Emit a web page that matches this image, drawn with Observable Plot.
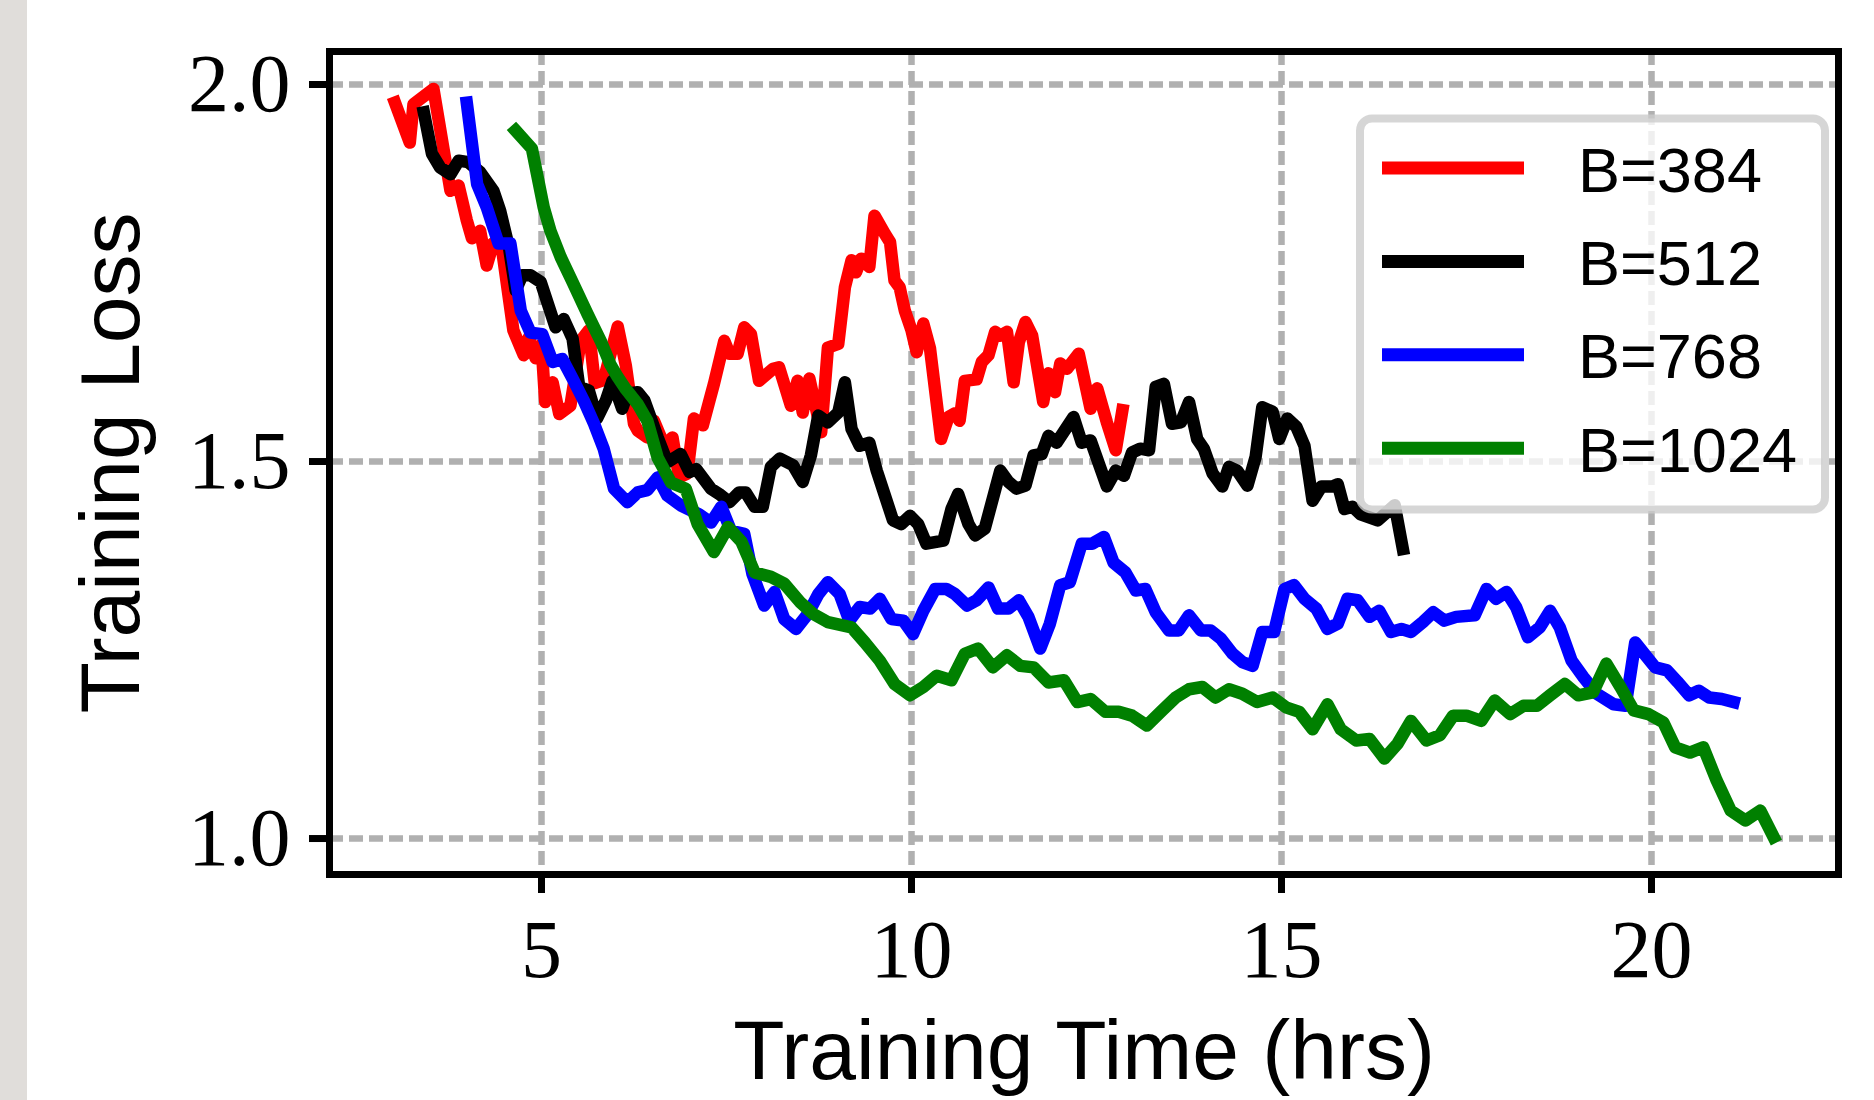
<!DOCTYPE html>
<html><head><meta charset="utf-8">
<script src="https://cdn.jsdelivr.net/npm/d3@7"></script>
<script src="https://cdn.jsdelivr.net/npm/@observablehq/plot@0.6"></script>
<style>
html,body{margin:0;padding:0;background:#fff;}
#wrap{position:relative;width:1874px;height:1100px;overflow:hidden;background:#fff;}
#strip{position:absolute;left:0;top:0;width:27px;height:1100px;background:#e0ddda;}
#wrap svg{position:absolute;left:0;top:0;}
</style></head><body><div id="wrap"><div id="strip"></div></div>
<script>
const seriesNames = ["B=384", "B=512", "B=768", "B=1024"];
const seriesColors = ["#ff0000", "#000000", "#0000ff", "#008000"];
const xTicks = [5, 10, 15, 20];
const yTicks = [1.0, 1.5, 2.0];
const xLabel = "Training Time (hrs)";
const yLabel = "Training Loss";

const timeB384 = [3.02,3.22,3.27,3.54,3.77,3.88,3.99,4.06,4.17,4.26,4.35,4.46,4.62,4.76,4.83,4.92,5.00,5.05,5.15,5.24,5.39,5.53,5.64,5.72,5.84,6.03,6.14,6.25,6.30,6.43,6.52,6.66,6.77,6.86,6.97,7.06,7.18,7.27,7.33,7.47,7.54,7.65,7.74,7.83,7.94,8.13,8.21,8.37,8.46,8.53,8.62,8.78,8.87,9.01,9.10,9.19,9.25,9.32,9.43,9.50,9.64,9.71,9.77,9.84,9.91,10.00,10.07,10.16,10.25,10.40,10.50,10.59,10.65,10.72,10.88,10.95,11.04,11.13,11.20,11.29,11.38,11.45,11.54,11.63,11.78,11.85,11.94,12.01,12.10,12.26,12.42,12.51,12.64,12.76,12.85];
const lossB384 = [1.976,1.923,1.974,1.994,1.859,1.866,1.820,1.796,1.806,1.760,1.790,1.786,1.674,1.641,1.665,1.637,1.655,1.579,1.605,1.563,1.574,1.660,1.674,1.604,1.608,1.679,1.627,1.550,1.541,1.532,1.554,1.521,1.532,1.479,1.484,1.557,1.548,1.581,1.603,1.660,1.643,1.643,1.678,1.669,1.607,1.623,1.625,1.574,1.607,1.565,1.610,1.539,1.651,1.656,1.731,1.767,1.751,1.769,1.758,1.826,1.802,1.791,1.740,1.731,1.700,1.674,1.645,1.683,1.650,1.530,1.559,1.564,1.554,1.607,1.609,1.632,1.641,1.672,1.667,1.672,1.605,1.658,1.685,1.667,1.579,1.617,1.592,1.630,1.623,1.643,1.570,1.597,1.552,1.515,1.568];

const timeB512 = [3.41,3.52,3.63,3.77,3.88,4.01,4.17,4.35,4.44,4.56,4.65,4.74,4.85,4.99,5.10,5.19,5.30,5.42,5.51,5.64,5.75,5.87,5.96,6.09,6.16,6.30,6.39,6.57,6.70,6.88,7.00,7.09,7.29,7.40,7.54,7.67,7.76,7.88,7.99,8.10,8.22,8.40,8.53,8.64,8.74,8.87,9.01,9.10,9.19,9.30,9.43,9.53,9.64,9.75,9.86,9.98,10.09,10.20,10.43,10.54,10.63,10.77,10.86,10.99,11.20,11.31,11.42,11.54,11.65,11.76,11.85,11.96,12.19,12.30,12.42,12.64,12.76,12.87,12.98,13.09,13.21,13.30,13.41,13.52,13.64,13.75,13.86,13.95,14.07,14.20,14.29,14.40,14.54,14.65,14.74,14.88,14.97,15.08,15.20,15.31,15.42,15.54,15.69,15.76,15.85,15.96,16.07,16.30,16.53,16.64];
const lossB512 = [1.963,1.908,1.890,1.881,1.899,1.897,1.884,1.859,1.833,1.784,1.727,1.747,1.747,1.738,1.705,1.678,1.689,1.663,1.599,1.594,1.557,1.581,1.607,1.570,1.590,1.592,1.581,1.532,1.499,1.510,1.486,1.490,1.464,1.457,1.446,1.459,1.459,1.440,1.440,1.493,1.504,1.495,1.473,1.508,1.561,1.552,1.565,1.605,1.543,1.521,1.525,1.488,1.455,1.422,1.417,1.428,1.417,1.391,1.395,1.437,1.457,1.417,1.402,1.411,1.488,1.473,1.464,1.468,1.508,1.510,1.534,1.525,1.559,1.525,1.528,1.467,1.488,1.481,1.512,1.517,1.515,1.599,1.603,1.550,1.552,1.579,1.530,1.517,1.484,1.467,1.493,1.488,1.468,1.506,1.572,1.566,1.530,1.557,1.546,1.521,1.448,1.467,1.467,1.470,1.437,1.440,1.430,1.422,1.442,1.384];

const timeB768 = [3.99,4.13,4.26,4.42,4.58,4.72,4.85,5.01,5.15,5.28,5.42,5.57,5.71,5.84,5.98,6.16,6.30,6.43,6.57,6.70,6.88,7.13,7.29,7.43,7.56,7.74,7.85,8.01,8.15,8.28,8.44,8.60,8.74,8.87,9.03,9.16,9.30,9.44,9.57,9.73,9.89,10.02,10.16,10.32,10.47,10.59,10.75,10.88,11.04,11.17,11.31,11.45,11.58,11.74,11.87,12.01,12.14,12.30,12.44,12.60,12.73,12.89,13.03,13.16,13.30,13.48,13.61,13.75,13.91,14.04,14.18,14.34,14.47,14.61,14.74,14.90,15.04,15.17,15.31,15.47,15.62,15.76,15.89,16.03,16.19,16.32,16.48,16.62,16.75,16.91,17.05,17.20,17.36,17.61,17.77,17.90,18.04,18.17,18.33,18.49,18.63,18.76,18.92,19.08,19.26,19.49,19.65,19.78,20.05,20.21,20.35,20.51,20.64,20.78,20.95,21.11];
const lossB768 = [1.976,1.868,1.837,1.789,1.789,1.700,1.671,1.669,1.632,1.636,1.610,1.581,1.550,1.517,1.464,1.446,1.459,1.462,1.479,1.455,1.442,1.430,1.419,1.440,1.408,1.404,1.351,1.309,1.327,1.291,1.278,1.298,1.324,1.340,1.324,1.289,1.307,1.305,1.318,1.291,1.289,1.271,1.302,1.331,1.331,1.324,1.309,1.316,1.333,1.305,1.305,1.316,1.294,1.252,1.285,1.336,1.340,1.391,1.391,1.400,1.366,1.353,1.329,1.331,1.300,1.276,1.276,1.296,1.276,1.276,1.265,1.245,1.234,1.229,1.274,1.274,1.331,1.336,1.318,1.305,1.278,1.285,1.318,1.316,1.294,1.302,1.274,1.278,1.274,1.287,1.300,1.289,1.294,1.296,1.331,1.318,1.327,1.307,1.267,1.280,1.302,1.280,1.236,1.214,1.192,1.178,1.176,1.260,1.227,1.223,1.208,1.190,1.196,1.187,1.185,1.181];

const timeB1024 = [4.65,4.87,5.03,5.12,5.26,5.42,5.62,5.80,5.93,6.03,6.14,6.30,6.43,6.57,6.75,6.95,7.11,7.33,7.52,7.70,7.88,8.10,8.28,8.49,8.67,8.87,9.19,9.37,9.57,9.77,9.98,10.16,10.34,10.54,10.72,10.90,11.10,11.29,11.47,11.65,11.85,12.06,12.24,12.42,12.62,12.80,12.98,13.18,13.39,13.57,13.75,13.93,14.11,14.29,14.47,14.67,14.88,15.06,15.24,15.42,15.62,15.80,16.01,16.19,16.39,16.57,16.75,16.96,17.14,17.32,17.50,17.70,17.88,18.09,18.27,18.45,18.63,18.83,19.01,19.21,19.39,19.58,19.76,19.96,20.16,20.32,20.52,20.70,20.88,21.07,21.27,21.47,21.65];
const lossB1024 = [1.939,1.915,1.837,1.806,1.771,1.738,1.696,1.660,1.629,1.612,1.596,1.576,1.554,1.505,1.472,1.464,1.417,1.380,1.413,1.394,1.353,1.347,1.338,1.314,1.298,1.287,1.280,1.260,1.236,1.205,1.190,1.201,1.216,1.210,1.245,1.252,1.227,1.243,1.229,1.227,1.207,1.210,1.181,1.185,1.168,1.168,1.163,1.150,1.170,1.187,1.198,1.201,1.187,1.198,1.192,1.181,1.187,1.174,1.168,1.145,1.178,1.145,1.130,1.132,1.106,1.126,1.156,1.130,1.137,1.163,1.163,1.156,1.183,1.165,1.176,1.176,1.190,1.205,1.190,1.194,1.232,1.201,1.170,1.165,1.154,1.121,1.114,1.121,1.077,1.037,1.024,1.037,1.002];

const seriesTimes = [timeB384, timeB512, timeB768, timeB1024];
const seriesLosses = [lossB384, lossB512, lossB768, lossB1024];

const rows = [];
seriesNames.forEach((name, s) => {
  seriesTimes[s].forEach((t, i) => rows.push({series: name, time: t, loss: seriesLosses[s][i]}));
});

const W = 1874, H = 1100;
const mL = 329, mR = 36, mT = 51, mB = 226;
const xDomain = [2.135, 22.527];
const yDomain = [0.9523, 2.0438];
// scale units per pixel, so that outward tick lengths (in px) can be expressed through the scales
const xPerPx = (xDomain[1] - xDomain[0]) / (W - mL - mR);
const yPerPx = (yDomain[1] - yDomain[0]) / (H - mT - mB);
const tickLenX = 19, tickLenY = 20;

const gridStyle = {stroke: "#b0b0b0", strokeOpacity: 1, strokeWidth: 6.5, strokeDasharray: "14,6"};
const serif = "'Liberation Serif', 'DejaVu Serif', serif";
const sans = "'Liberation Sans', 'DejaVu Sans', sans-serif";

const chart = Plot.plot({
  width: W, height: H,
  marginLeft: mL, marginRight: mR, marginTop: mT, marginBottom: mB,
  style: {background: "transparent", fontFamily: serif, overflow: "visible", color: "black"},
  x: {domain: xDomain},
  y: {domain: yDomain},
  color: {domain: seriesNames, range: seriesColors},
  marks: [
    Plot.gridX(xTicks, gridStyle),
    Plot.gridY(yTicks, gridStyle),
    Plot.line(rows, {x: "time", y: "loss", z: "series", stroke: "series", strokeWidth: 12.5, strokeLinejoin: "round", strokeLinecap: "square"}),
    Plot.frame({stroke: "black", strokeWidth: 7}),
    // outward tick marks
    Plot.ruleX(xTicks, {x: d => d, y1: yDomain[0], y2: yDomain[0] - tickLenX * yPerPx, stroke: "black", strokeWidth: 7}),
    Plot.ruleY(yTicks, {y: d => d, x1: xDomain[0], x2: xDomain[0] - tickLenY * xPerPx, stroke: "black", strokeWidth: 7}),
    Plot.axisX(xTicks, {tickSize: 0, tickPadding: 44, fontSize: 82, label: null, tickFormat: d => String(d), fontFamily: serif}),
    Plot.axisY(yTicks, {tickSize: 0, tickPadding: 39, fontSize: 82, label: null, tickFormat: d => d.toFixed(1), fontFamily: serif}),
    Plot.text([xLabel], {text: d => d, frameAnchor: "bottom", dy: 204, lineAnchor: "bottom", textAnchor: "middle", fontSize: 84, fontFamily: sans, fill: "black"}),
    Plot.text([yLabel], {text: d => d, frameAnchor: "left", dx: -191, rotate: -90, lineAnchor: "bottom", textAnchor: "middle", fontSize: 84, fontFamily: sans, fill: "black"})
  ]
});

// Legend (inside the plot, upper right)
const svg = d3.select(chart);
const lg = svg.append("g").attr("class", "legend").attr("text-anchor", "start");
lg.append("rect")
  .attr("x", 1360).attr("y", 118.5).attr("width", 465).attr("height", 391)
  .attr("rx", 12).attr("ry", 12)
  .attr("fill", "white").attr("fill-opacity", 0.8)
  .attr("stroke", "#cccccc").attr("stroke-opacity", 0.8).attr("stroke-width", 8);
seriesNames.forEach((name, i) => {
  const cy = 168 + i * 93.4;
  lg.append("line").attr("x1", 1382).attr("x2", 1524).attr("y1", cy).attr("y2", cy)
    .attr("stroke", seriesColors[i]).attr("stroke-width", 13);
  lg.append("text").attr("x", 1578).attr("y", cy + 23.5)
    .attr("text-anchor", "start")
    .attr("font-family", sans).attr("font-size", 63)
    .attr("fill", "black").text(name);
});

document.getElementById("wrap").appendChild(chart);
</script>
</body></html>
